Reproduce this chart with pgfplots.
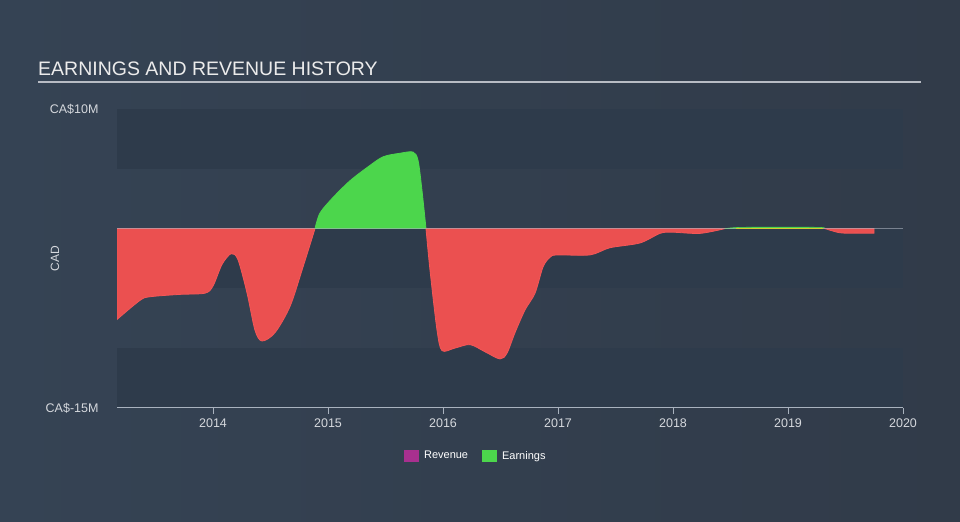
\documentclass[border=0pt]{standalone}
\usepackage{fontspec}
\setmainfont{Liberation Sans}
\usepackage{pgfplots}
\pgfplotsset{compat=1.18}
\definecolor{bgL}{HTML}{354354}
\definecolor{bgR}{HTML}{313B49}
\definecolor{band}{HTML}{2E3B4B}
\definecolor{ered}{HTML}{EB5050}
\definecolor{ereddraw}{HTML}{F45656}
\definecolor{egreen}{HTML}{4CD64C}
\definecolor{rev}{HTML}{A8308F}
\definecolor{txt}{HTML}{D5D8DD}
\definecolor{axisgray}{HTML}{A9B2BE}
\definecolor{titleline}{HTML}{B8BCC4}
\begin{document}
\begin{tikzpicture}
\shade[left color=bgL, right color=bgR] (0bp,0bp) rectangle (960bp,522bp);
\node[anchor=base west, text=white!92!black, font=\fontsize{19.5bp}{23bp}\selectfont, inner sep=0pt] at (38bp,446bp) {EARNINGS AND REVENUE HISTORY};
\draw[titleline, line width=1.5bp] (38bp,440bp) -- (921bp,440bp);
\begin{axis}[
  at={(117bp,114bp)}, anchor=south west, scale only axis,
  width=786bp, height=299bp,
  xmin=2013.165, xmax=2020, ymin=-15, ymax=10,
  axis lines*=left,
  x axis line style={draw=axisgray, line width=1bp},
  y axis line style={draw=none},
  axis on top,
  xtick={2014,2015,2016,2017,2018,2019,2020},
  xticklabels={2014,2015,2016,2017,2018,2019,2020},
  ytick={-15,10},
  yticklabels={CA\$-15M,CA\$10M},
  tick align=outside,
  major tick length=6bp,
  x tick style={draw=axisgray, line width=1bp},
  y tick style={draw=none},
  tick label style={text=txt, font=\fontsize{12.5bp}{15bp}\selectfont},
  xticklabel style={yshift=-1bp},
  yticklabel style={anchor=east, xshift=-9bp},
  ylabel={CAD},
  ylabel style={at={(axis description cs:0,0.5)}, anchor=center, yshift=62bp, text=txt, font=\fontsize{12bp}{14bp}\selectfont},
  legend style={at={(0.365,-0.16)}, anchor=west, draw=none, fill=none, text=white, inner sep=0pt,
     font=\fontsize{11bp}{13bp}\selectfont, legend columns=2,
     /tikz/every even column/.append style={column sep=12bp}},
  legend image code/.code={\fill[#1,draw=none] (0bp,-6bp) rectangle (15bp,6bp); \path[draw=none,fill=none] (18bp,0bp) circle (0pt);},
]
\fill[band] (rel axis cs:0,0) rectangle (rel axis cs:1,0.2);
\fill[band] (rel axis cs:0,0.4) rectangle (rel axis cs:1,0.6);
\fill[band] (rel axis cs:0,0.8) rectangle (rel axis cs:1,1);

% Earnings, negative part 1
\addplot[fill=ered, draw=ereddraw, line width=0.8bp, smooth, forget plot] coordinates {
(2013.165,-7.6)(2013.365,-6.0)(2013.452,-5.7)(2013.713,-5.5)(2013.93,-5.4)(2014.0,-4.8)
(2014.078,-3.0)(2014.157,-2.1)(2014.217,-2.6)(2014.296,-5.4)(2014.365,-8.5)(2014.426,-9.4)
(2014.539,-8.7)(2014.67,-6.5)(2014.783,-3.2)(2014.887,0)} \closedcycle;
% Earnings, positive part 1
\addplot[fill=egreen, draw=egreen, line width=0.8bp, smooth, forget plot] coordinates {
(2014.887,0)(2014.93,1.3)(2015.043,2.6)(2015.191,4.0)(2015.339,5.1)(2015.478,6.0)
(2015.626,6.3)(2015.739,6.4)(2015.783,5.7)(2015.817,3.2)(2015.852,0)} \closedcycle;
% Earnings, negative part 2
\addplot[fill=ered, draw=ereddraw, line width=0.8bp, smooth, forget plot] coordinates {
(2015.852,0)(2015.887,-3.5)(2015.948,-8.5)(2015.991,-10.2)(2016.1,-10.0)(2016.235,-9.7)
(2016.365,-10.3)(2016.496,-10.9)(2016.557,-10.4)(2016.626,-8.7)(2016.713,-6.8)(2016.8,-5.4)
(2016.87,-3.2)(2016.93,-2.4)(2016.991,-2.2)(2017.278,-2.2)(2017.452,-1.6)(2017.713,-1.2)
(2017.887,-0.4)(2017.991,-0.3)(2018.235,-0.4)(2018.452,0)} \closedcycle;
% Earnings, positive part 2
\addplot[fill=egreen, draw=egreen, line width=0.6bp, smooth, forget plot] coordinates {
(2018.452,0)(2018.583,0.1)(2018.93,0.12)(2019.278,0.1)(2019.322,0)} \closedcycle;
% Earnings, negative part 3
\addplot[fill=ered, draw=ereddraw, line width=0.8bp, smooth, forget plot] coordinates {
(2019.322,0)(2019.452,-0.35)(2019.6,-0.38)(2019.748,-0.38)} \closedcycle;
% zero line
\addplot[axisgray, line width=1.2bp, opacity=0.6, forget plot] coordinates {(2013.165,0)(2020,0)};
\addplot[color=yellow!70!orange, line width=0.8bp, opacity=0.7, forget plot] coordinates {(2018.55,0)(2019.3,0)};

\addlegendimage{fill=rev}
\addlegendentry{Revenue}
\addlegendimage{fill=egreen}
\addlegendentry{Earnings}
\end{axis}
\end{tikzpicture}
\end{document}
